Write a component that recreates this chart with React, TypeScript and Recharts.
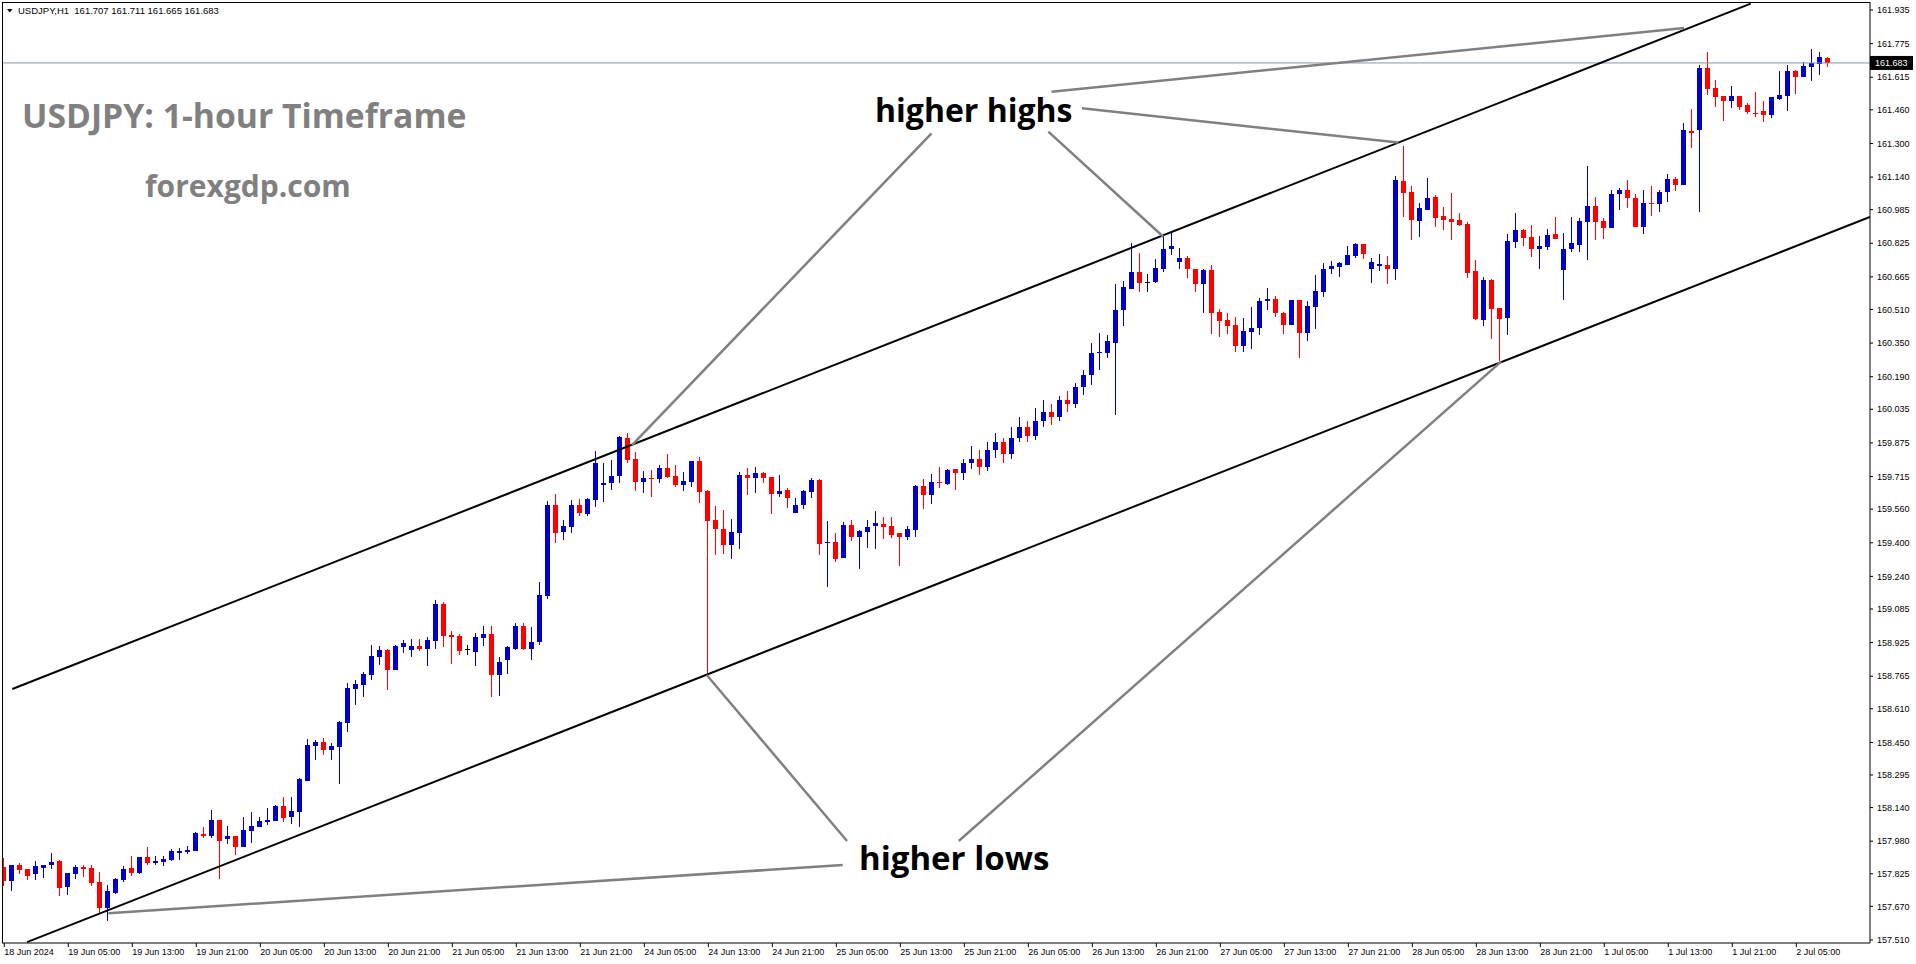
import React from "react";
import { ComposedChart, Bar, XAxis, YAxis, ReferenceLine } from "recharts";

// USDJPY H1, one candle per hour, 18 Jun 21:00 .. 2 Jul 09:00
const OPEN = [
  157.859, 157.791, 157.867, 157.848, 157.824, 157.854, 157.867, 157.886, 157.762, 157.824,
  157.857, 157.853, 157.786, 157.662, 157.734, 157.796, 157.853, 157.829, 157.905, 157.876,
  157.881, 157.891, 157.924, 157.929, 157.934, 158.014, 158.005, 158.081, 157.991, 158.005,
  157.953, 158.028, 158.048, 158.071, 158.076, 158.148, 158.095, 158.119, 158.267, 158.433,
  158.452, 158.414, 158.43, 158.544, 158.706, 158.723, 158.771, 158.858, 158.89, 158.795,
  158.906, 158.89, 158.909, 158.896, 158.934, 159.109, 158.959, 158.956, 158.893, 158.882,
  158.947, 158.966, 158.771, 158.842, 158.893, 159.004, 158.893, 158.929, 159.147, 159.58,
  159.451, 159.476, 159.58, 159.537, 159.603, 159.673, 159.686, 159.718, 159.898, 159.797,
  159.69, 159.709, 159.701, 159.755, 159.717, 159.675, 159.69, 159.789, 159.646, 159.508,
  159.464, 159.389, 159.448, 159.721, 159.709, 159.73, 159.711, 159.633, 159.651, 159.543,
  159.579, 159.643, 159.698, 159.397, 159.403, 159.329, 159.484, 159.429, 159.453, 159.481,
  159.489, 159.479, 159.448, 159.429, 159.461, 159.67, 159.627, 159.689, 159.679, 159.749,
  159.73, 159.78, 159.8, 159.76, 159.84, 159.88, 159.82, 159.9, 159.95, 159.91,
  159.98, 160.02, 160.0, 160.08, 160.06, 160.14, 160.2, 160.305, 160.305, 160.352,
  160.508, 160.607, 160.688, 160.642, 160.641, 160.704, 160.799, 160.738, 160.753, 160.701,
  160.633, 160.698, 160.498, 160.458, 160.436, 160.338, 160.404, 160.42, 160.55, 160.56,
  160.495, 160.436, 160.555, 160.4, 160.523, 160.595, 160.704, 160.714, 160.722, 160.764,
  160.822, 160.704, 160.718, 160.722, 160.704, 161.121, 161.069, 160.933, 160.983, 161.044,
  160.955, 160.941, 160.936, 160.917, 160.693, 160.46, 160.65, 160.515, 160.471, 160.833,
  160.888, 160.853, 160.799, 160.809, 160.868, 160.698, 160.796, 160.817, 160.928, 161.002,
  160.931, 160.899, 161.058, 161.079, 161.039, 160.904, 161.015, 161.013, 161.067, 161.131,
  161.102, 161.357, 161.364, 161.661, 161.565, 161.526, 161.504, 161.526, 161.483, 161.446,
  161.454, 161.435, 161.512, 161.526, 161.645, 161.616, 161.664, 161.68, 161.707,
];

const HIGH = [
  157.899, 157.867, 157.876, 157.848, 157.886, 157.867, 157.924, 157.889, 157.829, 157.867,
  157.867, 157.867, 157.834, 157.772, 157.803, 157.862, 157.91, 157.907, 157.953, 157.91,
  157.91, 157.943, 157.948, 157.957, 158.024, 158.048, 158.129, 158.081, 158.052, 158.005,
  158.095, 158.119, 158.095, 158.138, 158.152, 158.19, 158.19, 158.281, 158.466, 158.462,
  158.469, 158.449, 158.55, 158.731, 158.747, 158.787, 158.913, 158.909, 158.893, 158.912,
  158.937, 158.942, 158.942, 158.953, 159.128, 159.118, 158.982, 158.966, 158.912, 158.969,
  159.004, 159.004, 158.855, 158.909, 159.02, 159.02, 159.001, 159.213, 159.599, 159.632,
  159.508, 159.603, 159.607, 159.611, 159.836, 159.778, 159.794, 159.909, 159.924, 159.832,
  159.741, 159.746, 159.77, 159.822, 159.77, 159.736, 159.789, 159.808, 159.651, 159.575,
  159.556, 159.513, 159.736, 159.757, 159.762, 159.736, 159.714, 159.722, 159.662, 159.611,
  159.651, 159.709, 159.705, 159.503, 159.448, 159.499, 159.508, 159.46, 159.508, 159.551,
  159.524, 159.524, 159.448, 159.479, 159.675, 159.701, 159.727, 159.762, 159.752, 159.752,
  159.8, 159.86, 159.84, 159.88, 159.92, 159.9, 159.95, 160.0, 159.98, 160.04,
  160.08, 160.06, 160.1, 160.12, 160.16, 160.22, 160.349, 160.397, 160.389, 160.631,
  160.647, 160.825, 160.78, 160.679, 160.75, 160.864, 160.876, 160.801, 160.765, 160.701,
  160.703, 160.72, 160.512, 160.495, 160.476, 160.471, 160.523, 160.566, 160.612, 160.574,
  160.5, 160.555, 160.555, 160.55, 160.674, 160.733, 160.741, 160.737, 160.812, 160.828,
  160.822, 160.757, 160.774, 160.764, 161.145, 161.288, 161.098, 161.018, 161.134, 161.055,
  160.996, 161.063, 160.968, 160.926, 160.745, 160.666, 160.655, 160.515, 160.869, 160.971,
  160.891, 160.912, 160.86, 160.893, 160.948, 160.872, 160.948, 160.944, 161.193, 161.047,
  160.944, 161.078, 161.086, 161.126, 161.058, 161.078, 161.097, 161.078, 161.155, 161.14,
  161.399, 161.464, 161.673, 161.737, 161.602, 161.526, 161.575, 161.526, 161.491, 161.546,
  161.502, 161.521, 161.646, 161.673, 161.65, 161.686, 161.749, 161.737, 161.711,
];

const LOW = [
  157.764, 157.745, 157.826, 157.796, 157.796, 157.805, 157.848, 157.719, 157.724, 157.8,
  157.811, 157.768, 157.637, 157.6, 157.729, 157.786, 157.815, 157.827, 157.867, 157.867,
  157.862, 157.886, 157.891, 157.919, 157.934, 157.995, 157.995, 157.8, 157.967, 157.915,
  157.953, 157.972, 158.048, 158.057, 158.076, 158.071, 158.062, 158.048, 158.267, 158.367,
  158.387, 158.366, 158.25, 158.496, 158.628, 158.668, 158.747, 158.818, 158.696, 158.795,
  158.874, 158.858, 158.886, 158.813, 158.893, 158.906, 158.823, 158.866, 158.866, 158.813,
  158.909, 158.668, 158.671, 158.775, 158.893, 158.893, 158.845, 158.913, 159.134, 159.4,
  159.413, 159.448, 159.524, 159.524, 159.568, 159.591, 159.651, 159.686, 159.781, 159.648,
  159.638, 159.619, 159.686, 159.708, 159.667, 159.646, 159.667, 159.59, 158.771, 159.341,
  159.346, 159.324, 159.372, 159.627, 159.638, 159.686, 159.54, 159.616, 159.567, 159.54,
  159.559, 159.616, 159.345, 159.191, 159.31, 159.329, 159.41, 159.273, 159.376, 159.372,
  159.419, 159.424, 159.289, 159.413, 159.429, 159.56, 159.584, 159.662, 159.675, 159.651,
  159.7, 159.75, 159.72, 159.74, 159.8, 159.78, 159.8, 159.88, 159.88, 159.89,
  159.95, 159.96, 159.98, 160.02, 160.04, 160.1, 160.15, 160.222, 160.281, 160.01,
  160.431, 160.607, 160.595, 160.595, 160.634, 160.69, 160.769, 160.703, 160.658, 160.59,
  160.495, 160.393, 160.381, 160.393, 160.309, 160.309, 160.325, 160.392, 160.508, 160.476,
  160.393, 160.436, 160.278, 160.362, 160.417, 160.571, 160.679, 160.666, 160.722, 160.757,
  160.75, 160.638, 160.695, 160.633, 160.65, 160.952, 160.841, 160.856, 160.983, 160.904,
  160.885, 160.837, 160.904, 160.658, 160.46, 160.431, 160.371, 160.262, 160.387, 160.806,
  160.809, 160.758, 160.704, 160.793, 160.847, 160.552, 160.78, 160.78, 160.745, 160.841,
  160.844, 160.899, 160.98, 160.994, 160.904, 160.871, 160.956, 160.971, 161.023, 161.075,
  161.102, 161.28, 160.975, 161.534, 161.475, 161.407, 161.47, 161.459, 161.44, 161.427,
  161.404, 161.423, 161.507, 161.454, 161.534, 161.616, 161.597, 161.629, 161.665,
];

const CLOSE = [
  157.791, 157.867, 157.843, 157.816, 157.862, 157.867, 157.881, 157.757, 157.829, 157.857,
  157.848, 157.781, 157.662, 157.743, 157.8, 157.848, 157.829, 157.905, 157.876, 157.886,
  157.895, 157.934, 157.934, 157.938, 158.019, 158.005, 158.081, 157.981, 158.005, 157.953,
  158.033, 158.052, 158.076, 158.081, 158.148, 158.091, 158.124, 158.276, 158.438, 158.452,
  158.414, 158.433, 158.547, 158.71, 158.728, 158.775, 158.861, 158.89, 158.795, 158.909,
  158.921, 158.909, 158.896, 158.937, 159.109, 158.956, 158.953, 158.886, 158.893, 158.951,
  158.966, 158.771, 158.833, 158.906, 159.004, 158.893, 158.929, 159.151, 159.58, 159.448,
  159.48, 159.58, 159.54, 159.608, 159.781, 159.686, 159.718, 159.905, 159.794, 159.691,
  159.709, 159.701, 159.755, 159.714, 159.675, 159.694, 159.789, 159.643, 159.505, 159.464,
  159.389, 159.451, 159.721, 159.709, 159.73, 159.709, 159.633, 159.646, 159.614, 159.579,
  159.646, 159.698, 159.392, 159.403, 159.324, 159.484, 159.429, 159.456, 159.473, 159.492,
  159.476, 159.437, 159.429, 159.464, 159.67, 159.627, 159.689, 159.683, 159.746, 159.73,
  159.78, 159.8, 159.76, 159.84, 159.88, 159.82, 159.9, 159.95, 159.91, 159.98,
  160.02, 160.0, 160.08, 160.06, 160.14, 160.2, 160.301, 160.307, 160.36, 160.508,
  160.615, 160.688, 160.638, 160.642, 160.706, 160.796, 160.81, 160.753, 160.701, 160.633,
  160.698, 160.495, 160.457, 160.433, 160.338, 160.408, 160.424, 160.55, 160.56, 160.492,
  160.436, 160.555, 160.4, 160.527, 160.598, 160.703, 160.717, 160.73, 160.769, 160.822,
  160.772, 160.736, 160.725, 160.704, 161.126, 161.066, 160.936, 160.991, 161.039, 160.947,
  160.936, 160.928, 160.914, 160.685, 160.465, 160.65, 160.514, 160.466, 160.836, 160.888,
  160.852, 160.799, 160.812, 160.863, 160.847, 160.798, 160.825, 160.931, 161.002, 160.928,
  160.899, 161.059, 161.079, 161.042, 160.904, 161.015, 161.012, 161.067, 161.131, 161.102,
  161.364, 161.351, 161.661, 161.559, 161.521, 161.504, 161.526, 161.475, 161.448, 161.442,
  161.435, 161.521, 161.531, 161.645, 161.616, 161.669, 161.681, 161.711, 161.683,
];

const X_LABELS = [
  "18 Jun 2024", "19 Jun 05:00", "19 Jun 13:00", "19 Jun 21:00", "20 Jun 05:00",
  "20 Jun 13:00", "20 Jun 21:00", "21 Jun 05:00", "21 Jun 13:00", "21 Jun 21:00",
  "24 Jun 05:00", "24 Jun 13:00", "24 Jun 21:00", "25 Jun 05:00", "25 Jun 13:00",
  "25 Jun 21:00", "26 Jun 05:00", "26 Jun 13:00", "26 Jun 21:00", "27 Jun 05:00",
  "27 Jun 13:00", "27 Jun 21:00", "28 Jun 05:00", "28 Jun 13:00", "28 Jun 21:00",
  "1 Jul 05:00", "1 Jul 13:00", "1 Jul 21:00", "2 Jul 05:00",
];
const X_TICKS = X_LABELS.map((_, k) => k * 8);

const Y_TICKS = [
  157.51, 157.67, 157.825, 157.98, 158.14, 158.295, 158.45, 158.61, 158.765, 158.925,
  159.085, 159.24, 159.4, 159.56, 159.715, 159.875, 160.035, 160.19, 160.35, 160.51,
  160.665, 160.825, 160.985, 161.14, 161.3, 161.46, 161.615, 161.775, 161.935,
];

const LAST_PRICE = 161.683;
const HEADER = "USDJPY,H1  161.707 161.711 161.665 161.683";

// channel + annotation lines as [candle index, price] pairs
const CHANNEL_LINES = [
  [[1, 158.704], [218.3, 161.965]],
  [[2.84, 157.5], [233.2, 160.95]],
];
const POINTER_LINES = [
  [[115.9, 161.348], [78.46, 159.865]],
  [[130.5, 161.356], [144.88, 160.856]],
  [[134.7, 161.467], [174.25, 161.304]],
  [[130.9, 161.546], [209.96, 161.849]],
  [[105.34, 157.981], [87.8, 158.771]],
  [[119.3, 157.981], [187.1, 160.262]],
  [[104.8, 157.867], [13.0, 157.637]],
];

const X_DOMAIN = [-0.29, 233.21];
const Y_DOMAIN = [157.4956, 161.973];

const BULL = "#0000cd";
const BEAR = "#ff0000";
const FONT = "'Liberation Sans', Arial, sans-serif";
const BIG_FONT = "'Open Sans', sans-serif";

const data = OPEN.map((o, i) => ({
  i,
  o,
  h: HIGH[i],
  l: LOW[i],
  c: CLOSE[i],
  range: [LOW[i], HIGH[i]],
}));

function Candle(props: any) {
  const { x, width, payload } = props;
  let { y, height } = props;
  if (x == null || y == null) return null;
  if (height < 0) {
    y += height;
    height = -height;
  }
  const { o, h, l, c } = payload;
  const span = h - l || 1e-9;
  const py = (v: number) => y + ((h - v) / span) * height;
  const color = c > o ? BULL : c < o ? BEAR : "#000";
  const bx = Math.round(x + width / 2 - 2.5);
  const top = Math.round(py(Math.max(o, c)));
  const bot = Math.round(py(Math.min(o, c)));
  return (
    <g>
      <rect x={bx + 2} y={Math.round(y)} width={1} height={Math.max(1, Math.round(height))} fill={color} />
      <rect x={bx} y={top} width={5} height={Math.max(1, bot - top)} fill={color} />
    </g>
  );
}

function XTick(props: any) {
  const { x, y, payload } = props;
  return (
    <text x={x} y={y} dy={6} textAnchor="start" fontSize={9} fontFamily={FONT} fill="#000">
      {X_LABELS[Math.round(payload.value / 8)]}
    </text>
  );
}

function PriceTag(props: any) {
  const vb = props.viewBox;
  if (!vb) return null;
  const x = vb.x + vb.width;
  return (
    <g>
      <rect x={x} y={vb.y - 7} width={43} height={14} fill="#000" />
      <text x={x + 5} y={vb.y + 3.5} fontSize={9} fontFamily={FONT} fill="#fff">
        {LAST_PRICE.toFixed(3)}
      </text>
    </g>
  );
}

export default function App() {
  return (
    <div style={{ position: "absolute", left: 0, top: 0, width: 1916, height: 964, background: "#fff" }}>
      <ComposedChart
        width={1916}
        height={964}
        data={data}
        margin={{ top: 2, left: 2, right: 0, bottom: 0 }}
      >
        <XAxis
          dataKey="i"
          type="number"
          domain={X_DOMAIN}
          allowDataOverflow
          ticks={X_TICKS}
          interval={0}
          height={21}
          tickSize={4}
          tickMargin={2}
          tick={<XTick />}
          axisLine={{ stroke: "#000" }}
          tickLine={{ stroke: "#000" }}
        />
        <YAxis
          orientation="right"
          type="number"
          domain={Y_DOMAIN}
          allowDataOverflow
          ticks={Y_TICKS}
          interval={0}
          width={46}
          tickSize={3}
          tickMargin={4}
          tickFormatter={(v: number) => v.toFixed(3)}
          tick={{ fontSize: 9, fill: "#000", fontFamily: FONT }}
          axisLine={{ stroke: "#000" }}
          tickLine={{ stroke: "#000" }}
        />
        <ReferenceLine y={LAST_PRICE} stroke="#8894a4" strokeWidth={1} label={<PriceTag />} />
        {CHANNEL_LINES.map((s, k) => (
          <ReferenceLine
            key={"ch" + k}
            segment={[{ x: s[0][0], y: s[0][1] }, { x: s[1][0], y: s[1][1] }]}
            stroke="#000"
            strokeWidth={2}
            ifOverflow="hidden"
          />
        ))}
        {POINTER_LINES.map((s, k) => (
          <ReferenceLine
            key={"pt" + k}
            segment={[{ x: s[0][0], y: s[0][1] }, { x: s[1][0], y: s[1][1] }]}
            stroke="#808080"
            strokeWidth={2.5}
            ifOverflow="hidden"
          />
        ))}
        <Bar dataKey="range" barSize={5} shape={<Candle />} isAnimationActive={false} />
      </ComposedChart>

      <div
        style={{
          position: "absolute",
          left: 2,
          top: 2,
          width: 1868,
          height: 941,
          borderLeft: "1px solid #000",
          borderTop: "1px solid #000",
          boxSizing: "border-box",
          pointerEvents: "none",
        }}
      />

      <svg width={1916} height={964} style={{ position: "absolute", left: 0, top: 0, pointerEvents: "none" }}>
        <polygon points="7,9 12.5,9 9.75,12.5" fill="#000" />
        <text x={18} y={14} fontSize={9.5} fontFamily={FONT} fill="#000" style={{ whiteSpace: "pre" }}>
          {HEADER}
        </text>
        <text x={22} y={128} fontSize={33.7} fontWeight={700} fontFamily={BIG_FONT} fill="#808080">
          USDJPY: 1-hour Timeframe
        </text>
        <text x={145} y={197} fontSize={30} fontWeight={700} fontFamily={BIG_FONT} fill="#808080">
          forexgdp.com
        </text>
        <text x={875} y={122} fontSize={32} fontWeight={700} fontFamily={BIG_FONT} fill="#000">
          higher highs
        </text>
        <text x={859} y={870} fontSize={33} fontWeight={700} fontFamily={BIG_FONT} fill="#000">
          higher lows
        </text>
      </svg>
    </div>
  );
}
